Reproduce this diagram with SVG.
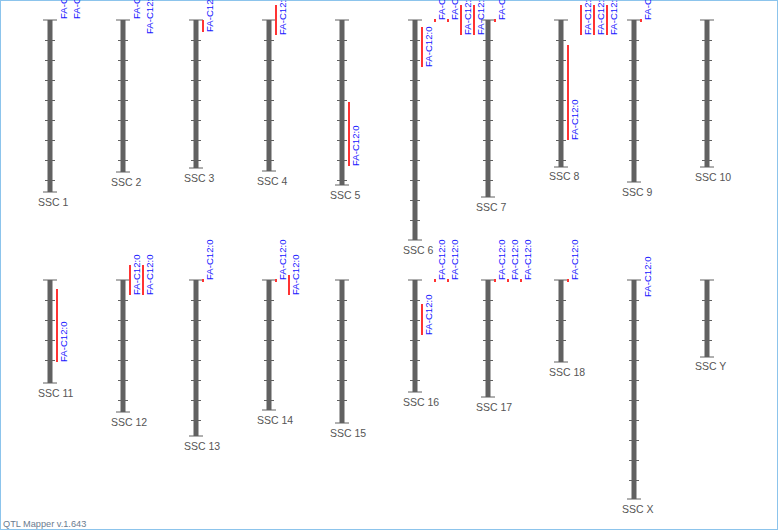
<svg xmlns="http://www.w3.org/2000/svg" width="778" height="530" viewBox="0 0 778 530">
<style>
.bar{fill:#616161}
.tk{stroke:#616161;stroke-width:1;fill:none}
.lbl{font-family:"Liberation Sans",Arial,sans-serif;font-size:10.5px;fill:#555}
.q{font-family:"Liberation Sans",Arial,sans-serif;font-size:9.6px;fill:#1414ff}
.r{fill:#f33}
.ft{font-family:"Liberation Sans",Arial,sans-serif;font-size:9.2px;fill:#6b7b8f}
</style>
<rect x="0.5" y="0.5" width="777" height="529" fill="#fff" stroke="#8cc4ec"/>
<g id="chromosomes">
<g id="ssc1"><rect class="bar" x="47.5" y="20" width="5" height="172"/><path class="tk" transform="translate(0 .5)" d="M43 19.5h14M43 191.5h14M45 40h10M45 60h10M45 80h10M45 100h10M45 120h10M45 140h10M45 160h10M45 180h10"/><text class="lbl" x="38" y="206">SSC 1</text></g>
<g id="ssc2"><rect class="bar" x="120.5" y="20" width="5" height="152"/><path class="tk" transform="translate(0 .5)" d="M116 19.5h14M116 171.5h14M118 40h10M118 60h10M118 80h10M118 100h10M118 120h10M118 140h10M118 160h10"/><text class="lbl" x="111" y="186">SSC 2</text></g>
<g id="ssc3"><rect class="bar" x="193.5" y="20" width="5" height="148"/><path class="tk" transform="translate(0 .5)" d="M189 19.5h14M189 167.5h14M191 40h10M191 60h10M191 80h10M191 100h10M191 120h10M191 140h10M191 160h10"/><text class="lbl" x="184" y="182">SSC 3</text></g>
<g id="ssc4"><rect class="bar" x="266.5" y="20" width="5" height="151"/><path class="tk" transform="translate(0 .5)" d="M262 19.5h14M262 170.5h14M264 40h10M264 60h10M264 80h10M264 100h10M264 120h10M264 140h10M264 160h10"/><text class="lbl" x="257" y="185">SSC 4</text></g>
<g id="ssc5"><rect class="bar" x="339.5" y="20" width="5" height="165"/><path class="tk" transform="translate(0 .5)" d="M335 19.5h14M335 184.5h14M337 40h10M337 60h10M337 80h10M337 100h10M337 120h10M337 140h10M337 160h10M337 180h10"/><text class="lbl" x="330" y="199">SSC 5</text></g>
<g id="ssc6"><rect class="bar" x="412.5" y="20" width="5" height="220"/><path class="tk" transform="translate(0 .5)" d="M408 19.5h14M408 239.5h14M410 40h10M410 60h10M410 80h10M410 100h10M410 120h10M410 140h10M410 160h10M410 180h10M410 200h10M410 220h10"/><text class="lbl" x="403" y="254">SSC 6</text></g>
<g id="ssc7"><rect class="bar" x="485.5" y="20" width="5" height="177"/><path class="tk" transform="translate(0 .5)" d="M481 19.5h14M481 196.5h14M483 40h10M483 60h10M483 80h10M483 100h10M483 120h10M483 140h10M483 160h10M483 180h10"/><text class="lbl" x="476" y="211">SSC 7</text></g>
<g id="ssc8"><rect class="bar" x="558.5" y="20" width="5" height="147"/><path class="tk" transform="translate(0 .5)" d="M554 19.5h14M554 166.5h14M556 40h10M556 60h10M556 80h10M556 100h10M556 120h10M556 140h10M556 160h10"/><text class="lbl" x="549" y="180">SSC 8</text></g>
<g id="ssc9"><rect class="bar" x="631.5" y="20" width="5" height="162"/><path class="tk" transform="translate(0 .5)" d="M627 19.5h14M627 181.5h14M629 40h10M629 60h10M629 80h10M629 100h10M629 120h10M629 140h10M629 160h10"/><text class="lbl" x="622" y="196">SSC 9</text></g>
<g id="ssc10"><rect class="bar" x="704.5" y="20" width="5" height="147"/><path class="tk" transform="translate(0 .5)" d="M700 19.5h14M700 166.5h14M702 40h10M702 60h10M702 80h10M702 100h10M702 120h10M702 140h10M702 160h10"/><text class="lbl" x="695" y="181">SSC 10</text></g>
<g id="ssc11"><rect class="bar" x="47.5" y="280" width="5" height="103"/><path class="tk" transform="translate(0 .5)" d="M43 279.5h14M43 382.5h14M45 300h10M45 320h10M45 340h10M45 360h10"/><text class="lbl" x="38" y="397">SSC 11</text></g>
<g id="ssc12"><rect class="bar" x="120.5" y="280" width="5" height="132"/><path class="tk" transform="translate(0 .5)" d="M116 279.5h14M116 411.5h14M118 300h10M118 320h10M118 340h10M118 360h10M118 380h10M118 400h10"/><text class="lbl" x="111" y="426">SSC 12</text></g>
<g id="ssc13"><rect class="bar" x="193.5" y="280" width="5" height="156"/><path class="tk" transform="translate(0 .5)" d="M189 279.5h14M189 435.5h14M191 300h10M191 320h10M191 340h10M191 360h10M191 380h10M191 400h10M191 420h10"/><text class="lbl" x="184" y="450">SSC 13</text></g>
<g id="ssc14"><rect class="bar" x="266.5" y="280" width="5" height="130"/><path class="tk" transform="translate(0 .5)" d="M262 279.5h14M262 409.5h14M264 300h10M264 320h10M264 340h10M264 360h10M264 380h10M264 400h10"/><text class="lbl" x="257" y="424">SSC 14</text></g>
<g id="ssc15"><rect class="bar" x="339.5" y="280" width="5" height="143"/><path class="tk" transform="translate(0 .5)" d="M335 279.5h14M335 422.5h14M337 300h10M337 320h10M337 340h10M337 360h10M337 380h10M337 400h10"/><text class="lbl" x="330" y="437">SSC 15</text></g>
<g id="ssc16"><rect class="bar" x="412.5" y="280" width="5" height="112"/><path class="tk" transform="translate(0 .5)" d="M408 279.5h14M408 391.5h14M410 300h10M410 320h10M410 340h10M410 360h10M410 380h10"/><text class="lbl" x="403" y="406">SSC 16</text></g>
<g id="ssc17"><rect class="bar" x="485.5" y="280" width="5" height="117"/><path class="tk" transform="translate(0 .5)" d="M481 279.5h14M481 396.5h14M483 300h10M483 320h10M483 340h10M483 360h10M483 380h10"/><text class="lbl" x="476" y="411">SSC 17</text></g>
<g id="ssc18"><rect class="bar" x="558.5" y="280" width="5" height="82"/><path class="tk" transform="translate(0 .5)" d="M554 279.5h14M554 361.5h14M556 300h10M556 320h10M556 340h10"/><text class="lbl" x="549" y="376">SSC 18</text></g>
<g id="sscX"><rect class="bar" x="631.5" y="280" width="5" height="219"/><path class="tk" transform="translate(0 .5)" d="M627 279.5h14M627 498.5h14M629 300h10M629 320h10M629 340h10M629 360h10M629 380h10M629 400h10M629 420h10M629 440h10M629 460h10M629 480h10"/><text class="lbl" x="622" y="513">SSC X</text></g>
<g id="sscY"><rect class="bar" x="704.5" y="280" width="5" height="77"/><path class="tk" transform="translate(0 .5)" d="M700 279.5h14M700 356.5h14M702 300h10M702 320h10M702 340h10"/><text class="lbl" x="695" y="370">SSC Y</text></g>
</g>
<g id="qtls">
<text class="q" transform="translate(67,19) rotate(-90)">FA-C12:0</text>
<text class="q" transform="translate(80,19) rotate(-90)">FA-C12:0</text>
<text class="q" transform="translate(140,19) rotate(-90)">FA-C12:0</text>
<text class="q" transform="translate(153,34) rotate(-90)">FA-C12:0</text>
<rect class="r" x="202" y="20" width="2" height="12"/><text class="q" transform="translate(213,32) rotate(-90)">FA-C12:0</text>
<rect class="r" x="275" y="5" width="2" height="30"/><text class="q" transform="translate(286,35) rotate(-90)">FA-C12:0</text>
<rect class="r" x="348" y="102" width="2" height="64"/><text class="q" transform="translate(359,166) rotate(-90)">FA-C12:0</text>
<rect class="r" x="421" y="27" width="2" height="40"/><text class="q" transform="translate(432,67) rotate(-90)">FA-C12:0</text>
<rect class="r" x="434" y="19" width="2" height="3"/><text class="q" transform="translate(445,20) rotate(-90)">FA-C12:0</text>
<rect class="r" x="447" y="19" width="2" height="3"/><text class="q" transform="translate(458,20) rotate(-90)">FA-C12:0</text>
<rect class="r" x="460" y="5" width="2" height="30"/><text class="q" transform="translate(471,35) rotate(-90)">FA-C12:0</text>
<rect class="r" x="473" y="5" width="2" height="30"/><text class="q" transform="translate(484,35) rotate(-90)">FA-C12:0</text>
<rect class="r" x="494" y="19" width="2" height="3"/><text class="q" transform="translate(505,20) rotate(-90)">FA-C12:0</text>
<rect class="r" x="567" y="45" width="2" height="95"/><text class="q" transform="translate(578,140) rotate(-90)">FA-C12:0</text>
<rect class="r" x="580" y="5" width="2" height="30"/><text class="q" transform="translate(591,35) rotate(-90)">FA-C12:0</text>
<rect class="r" x="593" y="5" width="2" height="30"/><text class="q" transform="translate(604,35) rotate(-90)">FA-C12:0</text>
<rect class="r" x="606" y="5" width="2" height="30"/><text class="q" transform="translate(617,35) rotate(-90)">FA-C12:0</text>
<rect class="r" x="640" y="19" width="2" height="3"/><text class="q" transform="translate(651,20) rotate(-90)">FA-C12:0</text>
<rect class="r" x="56" y="289" width="2" height="73"/><text class="q" transform="translate(67,362) rotate(-90)">FA-C12:0</text>
<rect class="r" x="129" y="265" width="2" height="30"/><text class="q" transform="translate(140,295) rotate(-90)">FA-C12:0</text>
<rect class="r" x="142" y="265" width="2" height="30"/><text class="q" transform="translate(153,295) rotate(-90)">FA-C12:0</text>
<rect class="r" x="202" y="279" width="2" height="3"/><text class="q" transform="translate(213,280) rotate(-90)">FA-C12:0</text>
<rect class="r" x="275" y="279" width="2" height="3"/><text class="q" transform="translate(286,280) rotate(-90)">FA-C12:0</text>
<rect class="r" x="288" y="275" width="2" height="20"/><text class="q" transform="translate(299,295) rotate(-90)">FA-C12:0</text>
<rect class="r" x="421" y="304" width="2" height="31"/><text class="q" transform="translate(432,335) rotate(-90)">FA-C12:0</text>
<rect class="r" x="434" y="279" width="2" height="3"/><text class="q" transform="translate(445,280) rotate(-90)">FA-C12:0</text>
<rect class="r" x="447" y="279" width="2" height="3"/><text class="q" transform="translate(458,280) rotate(-90)">FA-C12:0</text>
<rect class="r" x="494" y="279" width="2" height="3"/><text class="q" transform="translate(505,280) rotate(-90)">FA-C12:0</text>
<rect class="r" x="507" y="279" width="2" height="3"/><text class="q" transform="translate(518,280) rotate(-90)">FA-C12:0</text>
<rect class="r" x="520" y="279" width="2" height="3"/><text class="q" transform="translate(531,280) rotate(-90)">FA-C12:0</text>
<rect class="r" x="567" y="279" width="2" height="3"/><text class="q" transform="translate(578,280) rotate(-90)">FA-C12:0</text>
<text class="q" transform="translate(651,297) rotate(-90)">FA-C12:0</text>
</g>
<text class="ft" x="3" y="527">QTL Mapper v.1.643</text>
</svg>
